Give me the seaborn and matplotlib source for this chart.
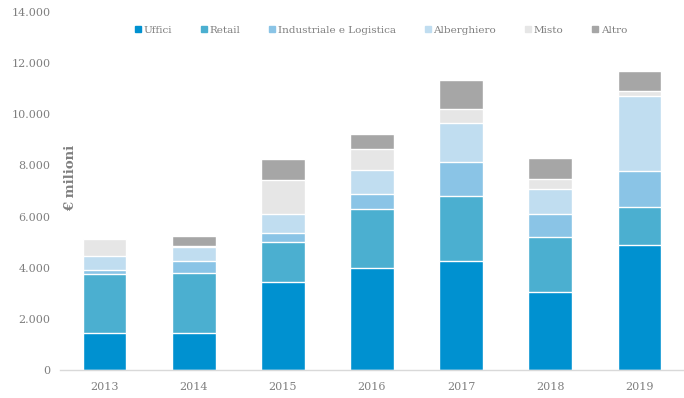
import matplotlib
matplotlib.use("Agg")
import matplotlib.pyplot as plt
import seaborn as sns
import numpy as np
import pandas as pd
from matplotlib.lines import Line2D

years = ["2013", "2014", "2015", "2016", "2017", "2018", "2019"]
series_names = ["Uffici", "Retail", "Industriale e Logistica", "Alberghiero", "Misto", "Altro"]
uffici = [1450, 1450, 3460, 3980, 4280, 3040, 4900]
retail = [2310, 2340, 1560, 2310, 2530, 2150, 1480]
industriale = [170, 460, 320, 610, 1320, 930, 1400]
alberghiero = [540, 570, 780, 910, 1530, 950, 2950]
misto = [650, 30, 1300, 840, 550, 390, 190]
altro = [0, 390, 840, 560, 1140, 840, 780]
colors = ["#0091d0", "#4bafd0", "#8ac4e6", "#c0ddf0", "#e6e6e6", "#a6a6a6"]
y_ticks = [0, 2000, 4000, 6000, 8000, 10000, 12000, 14000]
y_tick_labels = ["0", "2.000", "4.000", "6.000", "8.000", "10.000", "12.000", "14.000"]
y_label = "€ milioni"

sns.set_theme(style="white")
plt.rcParams["font.family"] = ["DejaVu Serif"]

values = [uffici, retail, industriale, alberghiero, misto, altro]
cum = np.cumsum(np.array(values), axis=0)

fig = plt.figure(figsize=(6.84, 3.98), dpi=100)
ax = fig.add_axes([60 / 684, 28 / 398, 624 / 684, 358 / 398])

for i in range(len(series_names) - 1, -1, -1):
    df = pd.DataFrame({"year": years, "value": cum[i]})
    sns.barplot(data=df, x="year", y="value", color=colors[i], ax=ax,
                width=0.49, edgecolor="white", linewidth=1.0, saturation=1)

ax.set_ylim(0, 14000)
ax.set_xlim(-0.5, 6.5)
ax.set_yticks(y_ticks)
ax.set_yticklabels(y_tick_labels)
ax.set_xlabel("")
ax.set_ylabel("")
tick_color = "#7f7f7f"
ax.tick_params(axis="both", colors=tick_color, labelsize=8, length=0)
ax.tick_params(axis="y", pad=7)
ax.tick_params(axis="x", pad=9)
for s in ["top", "right", "left"]:
    ax.spines[s].set_visible(False)
ax.spines["bottom"].set_color("#d9d9d9")
ax.spines["bottom"].set_linewidth(1)

fig.text(71 / 684, 1 - 178 / 398, y_label, rotation=90, ha="center", va="center",
         fontsize=9.5, fontweight="bold", color="#7f7f7f")

handles = [Line2D([0], [0], marker="s", linestyle="", markersize=4,
                  markerfacecolor=c, markeredgecolor=c) for c in colors]
fig.legend(handles, series_names, loc="center", bbox_to_anchor=(381 / 684, 1 - 30 / 398),
           ncol=6, frameon=False, fontsize=7.5, handlelength=0.6, handletextpad=0.2,
           columnspacing=2.8, labelcolor="#7f7f7f")

fig.savefig("out.png", dpi=100)
